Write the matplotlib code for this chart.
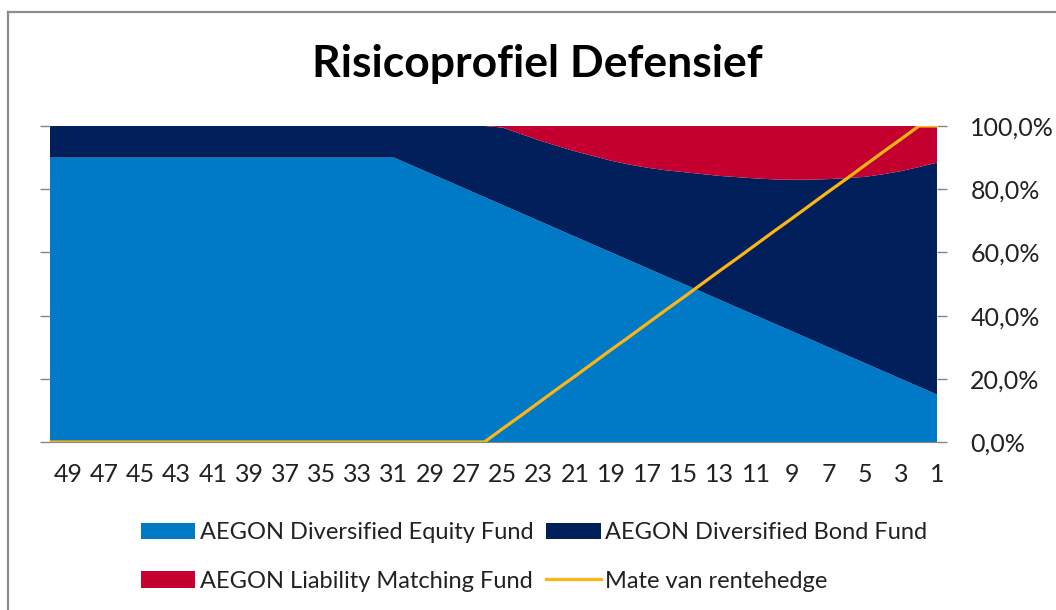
import numpy as np
import matplotlib.pyplot as plt
from matplotlib.lines import Line2D
from matplotlib.ticker import FuncFormatter

plt.rcParams['font.family'] = ['Lato', 'DejaVu Sans']

# years to retirement, 50 -> 1
years = list(range(50, 0, -1))

equity = [90] * 20 + [87.5, 85, 82.5, 80, 77.5, 75, 72.5, 70, 67.5, 65,
                      62.5, 60, 57.5, 55, 52.5, 50, 47.5, 45, 42.5, 40,
                      37.5, 35, 32.5, 30, 27.5, 25, 22.5, 20, 17.5, 15]
liability = [0] * 25 + [0.5, 2.5, 4.5, 6.3, 8.0, 9.5, 11.0, 12.2, 13.2, 14.0,
                        14.6, 15.2, 15.8, 16.2, 16.6, 16.9, 17.0, 17.0, 16.8,
                        16.5, 16.1, 15.3, 14.3, 13.0, 11.6]
bond = [100 - e - l for e, l in zip(equity, liability)]
hedge = [0] * 25 + [4.2, 8.3, 12.5, 16.7, 20.8, 25.0, 29.2, 33.3, 37.5, 41.7,
                    45.8, 50.0, 54.2, 58.3, 62.5, 66.7, 70.8, 75.0, 79.2, 83.3,
                    87.5, 91.7, 95.8, 100, 100]

labels = ['AEGON Diversified Equity Fund', 'AEGON Diversified Bond Fund',
          'AEGON Liability Matching Fund', 'Mate van rentehedge']
colors = ['#007AC7', '#001F5B', '#C3002F']
line_color = '#FDB515'

fig = plt.figure(figsize=(10.56, 6.10), dpi=100)
ax = fig.add_axes([50 / 1056, 1 - 442 / 610, 887 / 1056, 316 / 610])

polys = ax.stackplot(years, equity, bond, liability, colors=colors, labels=labels[:3])
ln, = ax.plot(years, hedge, color=line_color, lw=2.3, label=labels[3])

ax.set_xlim(50, 1)
ax.set_ylim(0, 100)
ax.set_xticks(list(range(49, 0, -2)))
ax.set_yticks([0, 20, 40, 60, 80, 100])
ax.yaxis.set_major_formatter(FuncFormatter(lambda v, p: ('%.1f%%' % v).replace('.', ',')))
ax.tick_params(axis='y', which='both', left=True, right=True, labelleft=False, labelright=True,
               length=7, width=1, color='#868686', labelsize=18, labelcolor='#222222', pad=17)
ax.tick_params(axis='x', length=0, labelsize=18, labelcolor='#222222', pad=15)
for s in ['left', 'right', 'top']:
    ax.spines[s].set_visible(False)
ax.spines['bottom'].set_color('#868686')

fig.text(537 / 1056, 1 - 64 / 610, 'Risicoprofiel Defensief', ha='center', va='center',
         fontsize=32, fontweight='bold', color='black')

# row-wise legend order
handles = [polys[0], polys[2], polys[1], ln]
leg_labels = [labels[0], labels[2], labels[1], labels[3]]
leg = fig.legend(handles=handles, labels=leg_labels, ncol=2,
                 loc='center', bbox_to_anchor=(534 / 1056, 1 - 557 / 610), frameon=False,
                 fontsize=17, handlelength=2.3, handleheight=0.7, handletextpad=0.2,
                 columnspacing=0.55, labelspacing=1.15, labelcolor='#222222')

# chart border
fig.add_artist(Line2D([8 / 1056, 8 / 1056], [0, 1 - 12 / 610], transform=fig.transFigure,
                      color='#8C8C8C', lw=1.6))
fig.add_artist(Line2D([8 / 1056, 1], [1 - 12 / 610, 1 - 12 / 610], transform=fig.transFigure,
                      color='#8C8C8C', lw=1.6))

fig.savefig('out.png', dpi=100)
